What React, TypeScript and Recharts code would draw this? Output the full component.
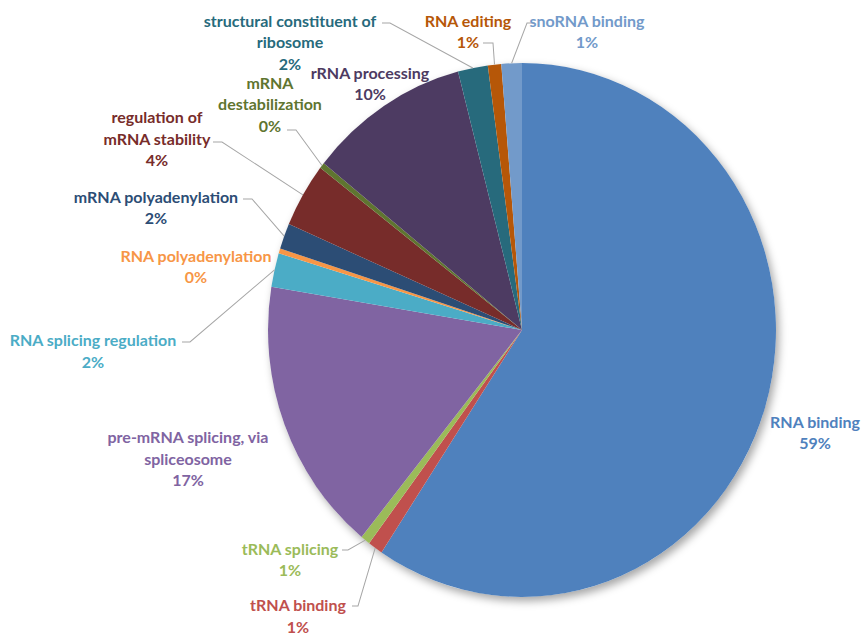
import { Pie, PieChart } from 'recharts';

const categories = [
  'RNA binding',
  'tRNA binding',
  'tRNA splicing',
  'pre-mRNA splicing, via spliceosome',
  'RNA splicing regulation',
  'RNA polyadenylation',
  'mRNA polyadenylation',
  'regulation of mRNA stability',
  'mRNA destabilization',
  'rRNA processing',
  'structural constituent of ribosome',
  'RNA editing',
  'snoRNA binding',
];

// share of genes per GO term (percent)
const shares = [59.3, 0.95, 0.6, 16.7, 2.05, 0.3, 1.55, 3.9, 0.35, 10.2, 1.9, 0.85, 1.3];

const colors = [
  '#4F81BD',
  '#C0504D',
  '#9BBB59',
  '#8064A2',
  '#4BACC6',
  '#F79646',
  '#2C4D75',
  '#772C2A',
  '#5F7530',
  '#4D3B62',
  '#276A7C',
  '#B65708',
  '#729ACA',
];

const W = 861;
const H = 634;
const CX = 522;
const CY = 330;
const R = 254;
// the reference pie is a bit taller than wide
const K = 267 / 254;
const LINE = 21.5;

// label block: centre x, first line y, wrap width, leader [attach x, y, elbow x]
type Spot = { x: number; y: number; wrap: number; leader?: [number, number, number] };
const labelSpots: Spot[] = [
  { x: 815, y: 421, wrap: 30 },
  { x: 298, y: 604, wrap: 30, leader: [352, 606, 358] },
  { x: 290, y: 548, wrap: 30, leader: [342, 550, 348] },
  { x: 188, y: 436, wrap: 22 },
  { x: 93, y: 339, wrap: 30, leader: [182, 342, 190] },
  { x: 196, y: 255, wrap: 30 },
  { x: 156, y: 196, wrap: 30, leader: [243, 199, 252] },
  { x: 157, y: 116, wrap: 14, leader: [213, 142, 222] },
  { x: 270, y: 82, wrap: 15, leader: [287, 130, 296] },
  { x: 370, y: 72, wrap: 30 },
  { x: 290, y: 20, wrap: 25, leader: [382, 23, 390] },
  { x: 468, y: 20, wrap: 30, leader: [483, 43, 493] },
  { x: 587, y: 20, wrap: 30, leader: [535, 23, 527] },
];

const data = categories.map((name, i) => ({ name, value: shares[i], fill: colors[i] }));

const toSvgY = (y: number) => CY + (y - CY) / K;

const wrap = (text: string, max: number) => {
  const out: string[] = [];
  let cur = '';
  text.split(' ').forEach((w) => {
    const next = cur ? `${cur} ${w}` : w;
    if (next.length > max && cur) {
      out.push(cur);
      cur = w;
    } else {
      cur = next;
    }
  });
  if (cur) out.push(cur);
  return out;
};

const renderLabel = (props: any) => {
  const { cx, cy, midAngle, outerRadius, index, percent } = props;
  const spot = labelSpots[index];
  const rad = (-midAngle * Math.PI) / 180;
  const rx = cx + outerRadius * Math.cos(rad);
  const ry = cy + outerRadius * Math.sin(rad);
  const lines = [...wrap(categories[index], spot.wrap), `${Math.round(percent * 100)}%`];
  return (
    <g>
      {spot.leader && (
        <polyline
          points={`${spot.leader[0]},${toSvgY(spot.leader[1])} ${spot.leader[2]},${toSvgY(spot.leader[1])} ${rx},${ry}`}
          fill="none"
          stroke="#A6A6A6"
          strokeWidth={1}
        />
      )}
      <text
        transform={`translate(${spot.x} ${toSvgY(spot.y)}) scale(1 ${1 / K})`}
        textAnchor="middle"
        dominantBaseline="central"
        fill={colors[index]}
        fontFamily="Lato, sans-serif"
        fontWeight="bold"
        fontSize={16}
      >
        {lines.map((l, i) => (
          <tspan key={i} x={0} y={i * LINE} dominantBaseline="central">
            {l}
          </tspan>
        ))}
      </text>
    </g>
  );
};

export default function App() {
  return (
    <div
      style={{
        position: 'absolute',
        left: 0,
        top: 0,
        width: W,
        height: H,
        background: '#fff',
        transform: `scaleY(${K})`,
        transformOrigin: `0 ${CY}px`,
      }}
    >
      {/* soft shadow behind the pie, as in the spreadsheet export */}
      <div
        style={{
          position: 'absolute',
          left: CX - R,
          top: CY - R,
          width: 2 * R,
          height: 2 * R,
          borderRadius: '50%',
          background: '#fff',
          boxShadow: '3px 4px 8px rgba(0,0,0,0.35)',
        }}
      />
      <PieChart width={W} height={H} margin={{ top: 0, right: 0, bottom: 0, left: 0 }}>
        <Pie
          data={data}
          dataKey="value"
          nameKey="name"
          cx={CX}
          cy={CY}
          outerRadius={R}
          startAngle={90}
          endAngle={-270}
          stroke="none"
          labelLine={false}
          label={renderLabel}
          isAnimationActive={false}
        />
      </PieChart>
    </div>
  );
}
